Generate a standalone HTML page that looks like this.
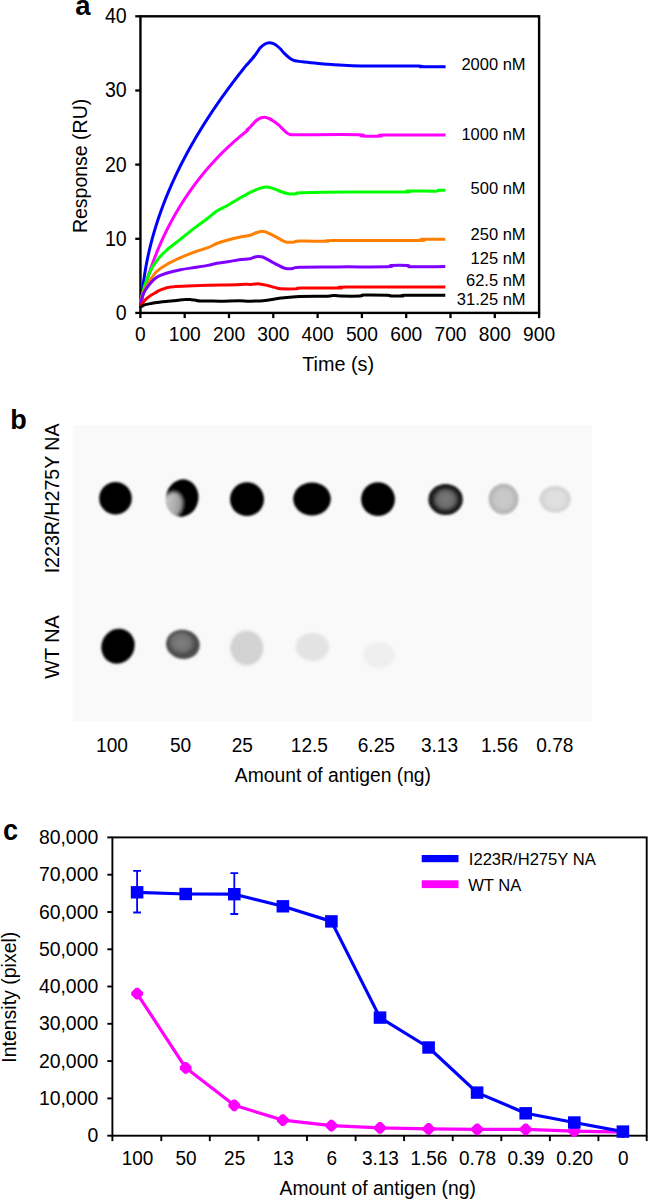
<!DOCTYPE html>
<html><head><meta charset="utf-8"><style>
html,body{margin:0;padding:0;background:#fff;}
svg{display:block;font-family:"Liberation Sans", sans-serif;}
</style></head><body>
<svg width="648" height="1199" viewBox="0 0 648 1199">
<defs>
<filter id="bl" x="-30%" y="-30%" width="160%" height="160%"><feGaussianBlur stdDeviation="1.1"/></filter>
<filter id="bl2" x="-30%" y="-30%" width="160%" height="160%"><feGaussianBlur stdDeviation="1.6"/></filter>
<filter id="bl3" x="-40%" y="-40%" width="180%" height="180%"><feGaussianBlur stdDeviation="2.0"/></filter>
<clipPath id="cd2"><ellipse cx="182.2" cy="498" rx="16.2" ry="18.7" transform="rotate(10 182.2 498)"/></clipPath>
<linearGradient id="gd2" x1="0" y1="0.5" x2="1" y2="0.3"><stop offset="0" stop-color="#cfcfcf"/><stop offset="0.55" stop-color="#b0b0b0"/><stop offset="1" stop-color="#909090"/></linearGradient>
<radialGradient id="g6"><stop offset="0" stop-color="#7a7a7a"/><stop offset="0.5" stop-color="#6a6a6a"/><stop offset="0.78" stop-color="#222"/><stop offset="1" stop-color="#111"/></radialGradient>
<radialGradient id="g7"><stop offset="0" stop-color="#cbcbcb"/><stop offset="0.6" stop-color="#c6c6c6"/><stop offset="0.85" stop-color="#b6b6b6"/><stop offset="1" stop-color="#bcbcbc"/></radialGradient>
<radialGradient id="g8"><stop offset="0" stop-color="#e2e2e2"/><stop offset="0.6" stop-color="#dedede"/><stop offset="0.85" stop-color="#d4d4d4"/><stop offset="1" stop-color="#d8d8d8"/></radialGradient>
<radialGradient id="gw2" cx="0.45" cy="0.45"><stop offset="0" stop-color="#808080"/><stop offset="0.55" stop-color="#717171"/><stop offset="0.85" stop-color="#484848"/><stop offset="1" stop-color="#505050"/></radialGradient>
</defs>
<rect width="648" height="1199" fill="#fff"/>
<g transform="translate(75.20,15.20) scale(1.0,1.0)"><text font-size="27.5" font-weight="bold">a</text></g>
<rect x="140.45" y="16.3" width="398.65" height="296.60" fill="none" stroke="#000" stroke-width="2.4"/>
<line x1="135.25" y1="312.9" x2="140.45" y2="312.9" stroke="#000" stroke-width="2.3"/>
<g transform="translate(126.70,319.90) scale(1.0,1.08)"><text font-size="19.6" text-anchor="end">0</text></g>
<line x1="135.25" y1="238.8" x2="140.45" y2="238.8" stroke="#000" stroke-width="2.3"/>
<g transform="translate(126.70,245.75) scale(1.0,1.08)"><text font-size="19.6" text-anchor="end">10</text></g>
<line x1="135.25" y1="164.6" x2="140.45" y2="164.6" stroke="#000" stroke-width="2.3"/>
<g transform="translate(126.70,171.60) scale(1.0,1.08)"><text font-size="19.6" text-anchor="end">20</text></g>
<line x1="135.25" y1="90.5" x2="140.45" y2="90.5" stroke="#000" stroke-width="2.3"/>
<g transform="translate(126.70,97.45) scale(1.0,1.08)"><text font-size="19.6" text-anchor="end">30</text></g>
<line x1="135.25" y1="16.3" x2="140.45" y2="16.3" stroke="#000" stroke-width="2.3"/>
<g transform="translate(126.70,23.30) scale(1.0,1.08)"><text font-size="19.6" text-anchor="end">40</text></g>
<line x1="140.4" y1="312.9" x2="140.4" y2="318.09999999999997" stroke="#000" stroke-width="2.3"/>
<g transform="translate(140.45,340.80) scale(1.0,1.09)"><text font-size="19.2" text-anchor="middle">0</text></g>
<line x1="184.7" y1="312.9" x2="184.7" y2="318.09999999999997" stroke="#000" stroke-width="2.3"/>
<g transform="translate(184.74,340.80) scale(1.0,1.09)"><text font-size="19.2" text-anchor="middle">100</text></g>
<line x1="229.0" y1="312.9" x2="229.0" y2="318.09999999999997" stroke="#000" stroke-width="2.3"/>
<g transform="translate(229.04,340.80) scale(1.0,1.09)"><text font-size="19.2" text-anchor="middle">200</text></g>
<line x1="273.3" y1="312.9" x2="273.3" y2="318.09999999999997" stroke="#000" stroke-width="2.3"/>
<g transform="translate(273.33,340.80) scale(1.0,1.09)"><text font-size="19.2" text-anchor="middle">300</text></g>
<line x1="317.6" y1="312.9" x2="317.6" y2="318.09999999999997" stroke="#000" stroke-width="2.3"/>
<g transform="translate(317.63,340.80) scale(1.0,1.09)"><text font-size="19.2" text-anchor="middle">400</text></g>
<line x1="361.9" y1="312.9" x2="361.9" y2="318.09999999999997" stroke="#000" stroke-width="2.3"/>
<g transform="translate(361.92,340.80) scale(1.0,1.09)"><text font-size="19.2" text-anchor="middle">500</text></g>
<line x1="406.2" y1="312.9" x2="406.2" y2="318.09999999999997" stroke="#000" stroke-width="2.3"/>
<g transform="translate(406.22,340.80) scale(1.0,1.09)"><text font-size="19.2" text-anchor="middle">600</text></g>
<line x1="450.5" y1="312.9" x2="450.5" y2="318.09999999999997" stroke="#000" stroke-width="2.3"/>
<g transform="translate(450.51,340.80) scale(1.0,1.09)"><text font-size="19.2" text-anchor="middle">700</text></g>
<line x1="494.8" y1="312.9" x2="494.8" y2="318.09999999999997" stroke="#000" stroke-width="2.3"/>
<g transform="translate(494.81,340.80) scale(1.0,1.09)"><text font-size="19.2" text-anchor="middle">800</text></g>
<line x1="539.1" y1="312.9" x2="539.1" y2="318.09999999999997" stroke="#000" stroke-width="2.3"/>
<g transform="translate(539.10,340.80) scale(1.0,1.09)"><text font-size="19.2" text-anchor="middle">900</text></g>
<g transform="translate(302.20,370.80) scale(1.0,1.06)"><text font-size="19.8">Time (s)</text></g>
<g transform="translate(86.80,165.90) rotate(-90) scale(1.0,1.03)"><text font-size="19.5" text-anchor="middle">Response (RU)</text></g>
<path d="M141.48,303.79 L141.52,303.11 L141.56,302.43 L141.61,301.76 L141.65,301.08 L141.70,300.41 L141.75,299.73 L141.80,299.06 L141.85,298.39 L141.90,297.71 L141.96,297.04 L142.01,296.37 L142.07,295.69 L142.13,295.02 L142.19,294.35 L142.25,293.68 L142.31,293.01 L142.38,292.34 L142.44,291.67 L142.51,291.00 L142.58,290.33 L142.65,289.66 L142.72,288.99 L142.79,288.32 L142.87,287.66 L142.94,286.99 L143.02,286.32 L143.10,285.65 L143.18,284.99 L143.26,284.32 L143.34,283.65 L143.42,282.99 L143.51,282.32 L143.60,281.66 L143.69,281.00 L143.78,280.33 L143.87,279.67 L143.96,279.00 L144.05,278.34 L144.15,277.68 L144.24,277.02 L144.34,276.35 L144.44,275.69 L144.54,275.03 L144.64,274.37 L144.75,273.71 L144.85,273.05 L144.96,272.39 L145.07,271.73 L145.18,271.07 L145.29,270.41 L145.40,269.76 L145.51,269.10 L145.62,268.44 L145.74,267.78 L145.86,267.13 L145.98,266.47 L146.10,265.81 L146.22,265.16 L146.34,264.50 L146.46,263.85 L146.59,263.19 L146.71,262.54 L146.84,261.89 L146.97,261.23 L147.10,260.58 L147.23,259.93 L147.36,259.27 L147.50,258.62 L147.63,257.97 L147.77,257.32 L147.91,256.67 L148.05,256.02 L148.19,255.37 L148.33,254.72 L148.47,254.07 L148.62,253.42 L148.76,252.77 L148.91,252.12 L149.06,251.47 L149.21,250.83 L149.36,250.18 L149.51,249.53 L149.66,248.89 L149.82,248.24 L149.97,247.59 L150.13,246.95 L150.29,246.30 L150.45,245.66 L150.61,245.01 L150.77,244.37 L150.93,243.73 L151.10,243.08 L151.26,242.44 L151.43,241.80 L151.60,241.16 L151.77,240.52 L151.94,239.87 L152.11,239.23 L152.28,238.59 L152.46,237.95 L152.63,237.31 L152.81,236.67 L152.99,236.04 L153.17,235.40 L153.35,234.76 L153.53,234.12 L153.71,233.48 L153.90,232.85 L154.08,232.21 L154.27,231.57 L154.46,230.94 L154.64,230.30 L154.83,229.67 L155.02,229.03 L155.22,228.40 L155.41,227.76 L155.60,227.13 L155.80,226.50 L156.00,225.86 L156.19,225.23 L156.39,224.60 L156.59,223.97 L156.80,223.34 L157.00,222.71 L157.20,222.07 L157.41,221.44 L157.61,220.81 L157.82,220.19 L158.03,219.56 L158.24,218.93 L158.45,218.30 L158.66,217.67 L158.87,217.04 L159.09,216.42 L159.30,215.79 L159.52,215.16 L159.74,214.54 L159.95,213.91 L160.17,213.29 L160.39,212.66 L160.62,212.04 L160.84,211.41 L161.06,210.79 L161.29,210.17 L161.51,209.54 L161.74,208.92 L161.97,208.30 L162.20,207.68 L162.43,207.06 L162.66,206.44 L162.89,205.81 L163.13,205.19 L163.36,204.57 L163.60,203.96 L163.83,203.34 L164.07,202.72 L164.31,202.10 L164.55,201.48 L164.79,200.86 L165.03,200.25 L165.28,199.63 L165.52,199.01 L165.77,198.40 L166.01,197.78 L166.26,197.17 L166.51,196.55 L166.76,195.94 L167.01,195.33 L167.26,194.71 L167.51,194.10 L167.77,193.49 L168.02,192.87 L168.28,192.26 L168.53,191.65 L168.79,191.04 L169.05,190.43 L169.31,189.82 L169.57,189.21 L169.83,188.60 L170.09,187.99 L170.36,187.38 L170.62,186.77 L170.89,186.16 L171.15,185.56 L171.42,184.95 L171.69,184.34 L171.96,183.74 L172.23,183.13 L172.50,182.52 L172.77,181.92 L173.05,181.31 L173.32,180.71 L173.60,180.11 L173.87,179.50 L174.15,178.90 L174.43,178.30 L174.71,177.69 L174.99,177.09 L175.27,176.49 L175.55,175.89 L175.83,175.29 L176.12,174.69 L176.40,174.09 L176.69,173.49 L176.98,172.89 L177.26,172.29 L177.55,171.69 L177.84,171.09 L178.13,170.50 L178.42,169.90 L178.71,169.30 L179.01,168.71 L179.30,168.11 L179.60,167.52 L179.89,166.92 L180.19,166.33 L180.49,165.73 L180.79,165.14 L181.09,164.54 L181.39,163.95 L181.69,163.36 L181.99,162.77 L182.29,162.17 L182.60,161.58 L182.90,160.99 L183.21,160.40 L183.51,159.81 L183.82,159.22 L184.13,158.63 L184.44,158.04 L184.75,157.45 L185.06,156.86 L185.37,156.28 L185.68,155.69 L186.00,155.10 L186.31,154.52 L186.62,153.93 L186.94,153.34 L187.26,152.76 L187.57,152.17 L187.89,151.59 L188.21,151.01 L188.53,150.42 L188.85,149.84 L189.17,149.26 L189.50,148.67 L189.82,148.09 L190.14,147.51 L190.47,146.93 L190.80,146.35 L191.12,145.77 L191.45,145.19 L191.78,144.61 L192.11,144.03 L192.44,143.45 L192.77,142.87 L193.10,142.29 L193.43,141.72 L193.76,141.14 L194.10,140.56 L194.43,139.99 L194.77,139.41 L195.10,138.83 L195.44,138.26 L195.78,137.68 L196.11,137.11 L196.45,136.54 L196.79,135.96 L197.13,135.39 L197.48,134.82 L197.82,134.25 L198.16,133.67 L198.50,133.10 L198.85,132.53 L199.19,131.96 L199.54,131.39 L199.89,130.82 L200.23,130.25 L200.58,129.68 L200.93,129.12 L201.28,128.55 L201.63,127.98 L201.98,127.41 L202.33,126.85 L202.68,126.28 L203.04,125.71 L203.39,125.15 L203.75,124.58 L204.10,124.02 L204.46,123.46 L204.81,122.89 L205.17,122.33 L205.53,121.77 L205.89,121.20 L206.25,120.64 L206.61,120.08 L206.97,119.52 L207.33,118.96 L207.69,118.40 L208.05,117.84 L208.42,117.28 L208.78,116.72 L209.15,116.16 L209.51,115.60 L209.88,115.04 L210.24,114.49 L210.61,113.93 L210.98,113.37 L211.35,112.82 L211.72,112.26 L212.09,111.71 L212.46,111.15 L212.83,110.60 L213.20,110.04 L213.57,109.49 L213.95,108.94 L214.32,108.39 L214.69,107.83 L215.07,107.28 L215.45,106.73 L215.82,106.18 L216.20,105.63 L216.58,105.08 L216.95,104.53 L217.33,103.98 L217.71,103.43 L218.09,102.88 L218.47,102.34 L218.85,101.79 L219.24,101.24 L219.62,100.69 L220.00,100.15 L220.38,99.60 L220.77,99.06 L221.15,98.51 L221.54,97.97 L221.92,97.42 L222.31,96.88 L222.70,96.34 L223.08,95.80 L223.47,95.25 L223.86,94.71 L224.25,94.17 L224.64,93.63 L225.03,93.09 L225.42,92.55 L225.81,92.01 L226.20,91.47 L226.60,90.93 L226.99,90.39 L227.38,89.86 L227.78,89.32 L228.17,88.78 L228.57,88.24 L228.96,87.71 L229.36,87.17 L229.75,86.64 L230.15,86.10 L230.55,85.57 L230.95,85.03 L231.35,84.50 L231.75,83.97 L232.14,83.44 L232.55,82.90 L232.95,82.37 L233.35,81.84 L233.75,81.31 L234.15,80.78 L234.55,80.25 L234.96,79.72 L235.36,79.19 L235.76,78.66 L236.17,78.13 L236.57,77.61 L236.98,77.08 L237.39,76.55 L237.79,76.03 L238.20,75.50 L238.61,74.97 L239.01,74.45 L239.42,73.92 L239.83,73.40 L240.24,72.88 L240.65,72.35 L241.06,71.83 L241.47,71.31 L241.88,70.79 L242.29,70.27 L242.70,69.74 L243.12,69.22 L243.53,68.70 L243.94,68.18 L244.36,67.66 L244.77,67.15 L245.18,66.63 L245.60,66.11 L246.01,65.59 L246.43,65.08 L246.85,64.56 L247.0,64.7 C248.3,63.2 252.6,58.4 254.8,55.5 C257.1,52.6 258.8,49.5 260.5,47.6 C262.2,45.7 263.5,44.8 265.0,44.0 C266.5,43.2 268.1,42.8 269.4,42.7 C270.7,42.6 271.8,43.0 273.0,43.4 C274.2,43.8 275.1,44.5 276.4,45.4 C277.6,46.3 279.2,47.7 280.5,49.0 C281.8,50.3 282.5,51.5 284.1,53.1 C285.7,54.7 288.4,57.2 290.2,58.5 C292.0,59.8 292.9,60.3 294.9,60.8 C296.9,61.3 299.0,61.3 302.3,61.7 C305.6,62.1 310.6,62.6 314.7,63.0 C318.8,63.4 322.9,63.9 327.0,64.2 C331.1,64.5 333.6,64.7 339.4,65.0 C345.2,65.3 348.4,65.8 361.6,65.9 C374.8,66.1 408.5,65.8 418.4,65.9 C428.3,66.0 416.4,66.6 420.9,66.7 C425.4,66.8 441.5,66.8 445.6,66.8" fill="none" stroke="#0000ff" stroke-width="3.0" stroke-linejoin="round" stroke-linecap="butt"/>
<path d="M141.04,303.21 L141.15,302.70 L141.26,302.19 L141.38,301.68 L141.49,301.17 L141.61,300.66 L141.73,300.16 L141.85,299.65 L141.96,299.14 L142.08,298.63 L142.20,298.12 L142.32,297.62 L142.45,297.11 L142.57,296.60 L142.69,296.10 L142.82,295.59 L142.94,295.08 L143.07,294.58 L143.19,294.07 L143.32,293.57 L143.45,293.06 L143.58,292.56 L143.71,292.05 L143.84,291.55 L143.97,291.04 L144.10,290.54 L144.24,290.04 L144.37,289.53 L144.51,289.03 L144.64,288.53 L144.78,288.02 L144.91,287.52 L145.05,287.02 L145.19,286.52 L145.33,286.02 L145.47,285.51 L145.61,285.01 L145.75,284.51 L145.90,284.01 L146.04,283.51 L146.19,283.01 L146.33,282.51 L146.48,282.01 L146.62,281.51 L146.77,281.01 L146.92,280.51 L147.07,280.02 L147.22,279.52 L147.37,279.02 L147.52,278.52 L147.67,278.02 L147.83,277.53 L147.98,277.03 L148.14,276.53 L148.29,276.04 L148.45,275.54 L148.60,275.04 L148.76,274.55 L148.92,274.05 L149.08,273.56 L149.24,273.06 L149.40,272.57 L149.56,272.08 L149.73,271.58 L149.89,271.09 L150.06,270.59 L150.22,270.10 L150.39,269.61 L150.55,269.12 L150.72,268.62 L150.89,268.13 L151.06,267.64 L151.23,267.15 L151.40,266.66 L151.57,266.17 L151.74,265.68 L151.92,265.19 L152.09,264.70 L152.26,264.21 L152.44,263.72 L152.62,263.23 L152.79,262.74 L152.97,262.26 L153.15,261.77 L153.33,261.28 L153.51,260.79 L153.69,260.31 L153.87,259.82 L154.05,259.33 L154.24,258.85 L154.42,258.36 L154.61,257.88 L154.79,257.39 L154.98,256.91 L155.17,256.42 L155.35,255.94 L155.54,255.46 L155.73,254.97 L155.92,254.49 L156.11,254.01 L156.31,253.53 L156.50,253.04 L156.69,252.56 L156.89,252.08 L157.08,251.60 L157.28,251.12 L157.48,250.64 L157.67,250.16 L157.87,249.68 L158.07,249.20 L158.27,248.72 L158.47,248.24 L158.67,247.77 L158.87,247.29 L159.08,246.81 L159.28,246.33 L159.49,245.86 L159.69,245.38 L159.90,244.91 L160.10,244.43 L160.31,243.95 L160.52,243.48 L160.73,243.01 L160.94,242.53 L161.15,242.06 L161.36,241.58 L161.57,241.11 L161.79,240.64 L162.00,240.17 L162.22,239.69 L162.43,239.22 L162.65,238.75 L162.86,238.28 L163.08,237.81 L163.30,237.34 L163.52,236.87 L163.74,236.40 L163.96,235.93 L164.18,235.47 L164.41,235.00 L164.63,234.53 L164.85,234.06 L165.08,233.60 L165.30,233.13 L165.53,232.66 L165.76,232.20 L165.98,231.73 L166.21,231.27 L166.44,230.80 L166.67,230.34 L166.90,229.88 L167.13,229.41 L167.37,228.95 L167.60,228.49 L167.83,228.02 L168.07,227.56 L168.30,227.10 L168.54,226.64 L168.78,226.18 L169.02,225.72 L169.25,225.26 L169.49,224.80 L169.73,224.34 L169.97,223.89 L170.22,223.43 L170.46,222.97 L170.70,222.51 L170.95,222.06 L171.19,221.60 L171.44,221.14 L171.68,220.69 L171.93,220.23 L172.18,219.78 L172.43,219.33 L172.68,218.87 L172.93,218.42 L173.18,217.97 L173.43,217.51 L173.68,217.06 L173.93,216.61 L174.19,216.16 L174.44,215.71 L174.70,215.26 L174.95,214.81 L175.21,214.36 L175.47,213.91 L175.73,213.46 L175.99,213.02 L176.25,212.57 L176.51,212.12 L176.77,211.67 L177.03,211.23 L177.29,210.78 L177.56,210.34 L177.82,209.89 L178.09,209.45 L178.35,209.01 L178.62,208.56 L178.89,208.12 L179.16,207.68 L179.43,207.24 L179.70,206.79 L179.97,206.35 L180.24,205.91 L180.51,205.47 L180.78,205.03 L181.06,204.59 L181.33,204.16 L181.61,203.72 L181.88,203.28 L182.16,202.84 L182.44,202.41 L182.71,201.97 L182.99,201.53 L183.27,201.10 L183.55,200.66 L183.83,200.23 L184.12,199.80 L184.40,199.36 L184.68,198.93 L184.97,198.50 L185.25,198.07 L185.54,197.64 L185.82,197.21 L186.11,196.77 L186.40,196.35 L186.69,195.92 L186.98,195.49 L187.27,195.06 L187.56,194.63 L187.85,194.20 L188.14,193.78 L188.44,193.35 L188.73,192.93 L189.02,192.50 L189.32,192.08 L189.62,191.65 L189.91,191.23 L190.21,190.80 L190.51,190.38 L190.81,189.96 L191.11,189.54 L191.41,189.12 L191.71,188.70 L192.01,188.28 L192.31,187.86 L192.62,187.44 L192.92,187.02 L193.23,186.60 L193.53,186.18 L193.84,185.77 L194.15,185.35 L194.46,184.94 L194.76,184.52 L195.07,184.11 L195.38,183.69 L195.70,183.28 L196.01,182.86 L196.32,182.45 L196.63,182.04 L196.95,181.63 L197.26,181.22 L197.58,180.81 L197.89,180.40 L198.21,179.99 L198.53,179.58 L198.85,179.17 L199.17,178.76 L199.49,178.36 L199.81,177.95 L200.13,177.54 L200.45,177.14 L200.77,176.73 L201.10,176.33 L201.42,175.93 L201.75,175.52 L202.07,175.12 L202.40,174.72 L202.72,174.32 L203.05,173.92 L203.38,173.52 L203.71,173.12 L204.04,172.72 L204.37,172.32 L204.70,171.92 L205.04,171.52 L205.37,171.13 L205.70,170.73 L206.04,170.33 L206.37,169.94 L206.71,169.55 L207.05,169.15 L207.38,168.76 L207.72,168.37 L208.06,167.97 L208.40,167.58 L208.74,167.19 L209.08,166.80 L209.42,166.41 L209.77,166.02 L210.11,165.63 L210.45,165.24 L210.80,164.86 L211.14,164.47 L211.49,164.08 L211.84,163.70 L212.19,163.31 L212.53,162.93 L212.88,162.55 L213.23,162.16 L213.58,161.78 L213.93,161.40 L214.29,161.02 L214.64,160.64 L214.99,160.26 L215.35,159.88 L215.70,159.50 L216.06,159.12 L216.41,158.74 L216.77,158.36 L217.13,157.99 L217.49,157.61 L217.85,157.24 L218.21,156.86 L218.57,156.49 L218.93,156.12 L219.29,155.74 L219.65,155.37 L220.02,155.00 L220.38,154.63 L220.75,154.26 L221.11,153.89 L221.48,153.52 L221.85,153.15 L222.22,152.79 L222.58,152.42 L222.95,152.05 L223.32,151.69 L223.69,151.32 L224.07,150.96 L224.44,150.59 L224.81,150.23 L225.18,149.87 L225.56,149.51 L225.93,149.15 L226.31,148.79 L226.69,148.43 L227.06,148.07 L227.44,147.71 L227.82,147.35 L228.20,146.99 L228.58,146.64 L228.96,146.28 L229.34,145.93 L229.72,145.57 L230.11,145.22 L230.49,144.86 L230.88,144.51 L231.26,144.16 L231.65,143.81 L232.03,143.46 L232.42,143.11 L232.81,142.76 L233.20,142.41 L233.59,142.06 L233.98,141.72 L234.37,141.37 L234.76,141.02 L235.15,140.68 L235.54,140.34 L235.94,139.99 L236.33,139.65 L236.73,139.31 L237.12,138.97 L237.52,138.62 L237.92,138.28 L238.31,137.94 L238.71,137.61 L239.11,137.27 L239.51,136.93 L239.91,136.59 L240.31,136.26 L240.72,135.92 L241.12,135.59 L241.52,135.25 L241.93,134.92 L242.33,134.59 L242.74,134.26 L243.14,133.93 L243.55,133.60 L243.96,133.27 L244.37,132.94 L244.78,132.61 L245.19,132.28 L245.60,131.96 L246.01,131.63 L246.42,131.30 L246.83,130.98 L247.25,130.66 L247.66,130.33 L247.0,129.8 C247.7,129.2 249.4,127.8 251.0,126.2 C252.6,124.7 254.7,121.9 256.3,120.5 C257.9,119.1 259.1,118.5 260.5,118.0 C261.9,117.5 263.4,117.1 264.8,117.2 C266.2,117.3 267.6,117.9 269.0,118.5 C270.4,119.1 271.7,119.9 273.3,121.0 C274.9,122.1 277.3,123.9 278.8,125.2 C280.3,126.5 281.2,127.6 282.5,128.8 C283.8,130.0 285.2,131.5 286.5,132.5 C287.8,133.5 287.8,134.2 290.0,134.6 C292.2,135.0 288.5,134.7 300.0,134.7 C311.5,134.7 348.8,134.5 359.1,134.7 C369.4,134.9 357.9,135.8 361.6,136.0 C365.3,136.2 377.7,136.2 381.4,136.0 C385.1,135.8 373.1,135.2 383.8,135.1 C394.5,134.9 435.3,135.1 445.6,135.1" fill="none" stroke="#ff00ff" stroke-width="3.0" stroke-linejoin="round" stroke-linecap="butt"/>
<path d="M140.6,303.0 C140.8,302.2 141.1,299.9 141.5,298.0 C141.9,296.1 142.2,294.6 143.0,291.6 C143.8,288.7 145.0,284.3 146.5,280.3 C148.0,276.3 150.1,271.3 152.2,267.5 C154.3,263.7 157.0,260.4 159.3,257.6 C161.7,254.8 162.8,253.6 166.3,250.5 C169.8,247.4 175.8,243.0 180.5,239.2 C185.2,235.4 190.1,231.4 194.7,227.9 C199.3,224.4 204.3,220.8 208.0,218.0 C211.7,215.2 213.5,213.1 216.8,211.0 C220.1,208.9 224.4,207.2 228.0,205.2 C231.6,203.2 235.0,200.9 238.6,198.8 C242.2,196.7 246.2,194.4 249.4,192.8 C252.6,191.2 255.0,190.2 257.7,189.2 C260.4,188.2 262.8,187.1 265.4,187.0 C268.0,186.9 270.5,187.7 273.1,188.5 C275.7,189.3 278.3,190.7 280.9,191.6 C283.5,192.5 286.0,193.4 288.6,193.8 C291.2,194.2 294.2,194.0 296.3,193.8 C298.4,193.6 292.2,193.1 300.9,192.8 C309.6,192.5 330.9,192.0 348.5,191.9 C366.1,191.8 396.3,192.2 406.2,192.1 C416.1,191.9 403.1,191.2 407.9,191.0 C412.7,190.8 429.9,191.3 435.0,191.2 C440.1,191.1 436.8,190.3 438.5,190.2 C440.2,190.0 444.2,190.3 445.3,190.3" fill="none" stroke="#00ff00" stroke-width="3.0" stroke-linejoin="round" stroke-linecap="butt"/>
<path d="M140.6,303.0 C140.8,302.0 141.3,298.9 141.8,297.0 C142.3,295.1 142.4,294.2 143.7,291.6 C144.9,289.1 147.2,285.0 149.3,281.7 C151.4,278.4 153.6,274.6 156.4,271.8 C159.2,269.0 162.3,267.1 166.3,264.7 C170.3,262.3 175.8,259.7 180.5,257.6 C185.2,255.5 190.1,253.7 194.7,252.0 C199.3,250.3 204.3,249.1 208.0,247.7 C211.7,246.3 213.5,244.8 216.8,243.5 C220.1,242.2 224.2,241.0 228.0,240.0 C231.8,239.0 235.6,238.1 239.3,237.3 C243.0,236.5 247.3,236.0 250.0,235.3 C252.7,234.6 253.7,233.7 255.5,233.0 C257.3,232.3 259.2,231.6 260.8,231.4 C262.4,231.2 263.7,231.5 265.0,231.8 C266.3,232.1 266.4,232.2 268.5,233.2 C270.6,234.2 275.4,236.6 277.8,237.9 C280.2,239.2 281.5,240.1 283.0,240.8 C284.5,241.5 285.3,242.0 287.0,242.2 C288.7,242.4 291.1,242.4 293.2,242.2 C295.3,242.0 293.7,241.3 299.4,241.1 C305.1,240.9 321.5,241.3 327.2,241.2 C332.9,241.1 318.1,240.5 333.3,240.4 C348.5,240.3 403.4,240.6 418.1,240.4 C432.8,240.2 417.0,239.5 421.5,239.3 C426.0,239.1 441.3,239.3 445.3,239.3" fill="none" stroke="#ff8000" stroke-width="3.0" stroke-linejoin="round" stroke-linecap="butt"/>
<path d="M140.6,303.5 C140.8,302.7 141.3,300.2 141.8,298.5 C142.3,296.8 142.4,295.3 143.7,293.0 C144.9,290.7 147.2,287.1 149.3,284.5 C151.4,281.9 153.6,279.4 156.4,277.5 C159.2,275.6 162.3,274.5 166.3,273.2 C170.3,271.9 175.8,270.6 180.5,269.7 C185.2,268.8 190.1,268.2 194.7,267.5 C199.3,266.8 204.3,266.1 208.0,265.4 C211.7,264.7 213.5,263.8 216.8,263.2 C220.1,262.6 224.2,262.3 228.0,261.7 C231.8,261.1 235.6,260.3 239.3,259.8 C243.0,259.3 247.6,259.1 250.0,258.7 C252.4,258.3 252.7,257.6 254.0,257.2 C255.3,256.8 256.4,256.5 257.7,256.4 C258.9,256.3 260.2,256.5 261.5,256.8 C262.8,257.1 263.2,257.2 265.4,258.3 C267.6,259.4 271.6,261.8 274.7,263.4 C277.8,265.0 281.7,267.1 284.0,268.0 C286.3,268.9 287.1,268.7 288.6,268.8 C290.1,268.9 291.2,268.7 293.0,268.4 C294.8,268.1 292.2,267.4 299.4,267.2 C306.6,266.9 321.7,267.0 336.4,266.9 C351.1,266.8 378.4,267.0 387.5,266.8 C396.6,266.6 387.5,265.8 390.9,265.6 C394.3,265.4 404.5,265.4 407.9,265.6 C411.3,265.8 405.1,266.7 411.3,266.8 C417.5,266.9 439.6,266.6 445.3,266.5" fill="none" stroke="#8000ff" stroke-width="3.0" stroke-linejoin="round" stroke-linecap="butt"/>
<path d="M140.5,306.5 C140.6,306.4 140.3,306.6 140.8,305.8 C141.3,305.1 142.6,303.2 143.5,302.0 C144.4,300.8 145.3,299.8 146.5,298.7 C147.7,297.6 149.1,296.6 150.5,295.6 C151.9,294.7 153.6,293.8 155.0,293.0 C156.4,292.2 157.6,291.4 159.0,290.7 C160.4,290.0 162.0,289.3 163.5,288.8 C165.0,288.3 166.3,287.9 168.0,287.5 C169.7,287.1 170.1,286.9 173.4,286.7 C176.7,286.4 181.8,286.2 187.6,286.0 C193.4,285.8 201.3,285.4 208.0,285.2 C214.7,285.0 221.7,285.0 228.0,284.9 C234.3,284.8 242.3,284.4 246.0,284.3 C249.7,284.2 247.8,284.6 250.0,284.5 C252.2,284.4 256.2,283.7 259.3,283.9 C262.4,284.1 266.0,285.1 268.5,285.7 C271.0,286.3 272.4,286.9 274.5,287.4 C276.6,287.9 277.3,288.6 280.9,288.8 C284.5,289.0 293.0,288.9 296.3,288.8 C299.6,288.7 293.6,288.2 300.9,288.1 C308.2,288.0 332.4,288.2 340.0,288.0 C347.6,287.8 329.2,287.1 346.8,287.0 C364.4,286.9 428.9,287.1 445.3,287.1" fill="none" stroke="#ff0000" stroke-width="3.0" stroke-linejoin="round" stroke-linecap="butt"/>
<path d="M140.6,307.8 C140.6,307.7 140.3,307.6 140.8,307.2 C141.3,306.8 142.6,305.9 143.5,305.4 C144.4,304.9 145.1,304.8 146.5,304.4 C147.9,304.0 149.9,303.7 152.0,303.3 C154.1,302.9 157.0,302.5 159.3,302.2 C161.6,301.9 163.7,301.7 166.0,301.5 C168.3,301.3 171.1,301.1 173.4,300.8 C175.7,300.5 178.1,300.1 180.0,299.9 C181.9,299.7 183.1,299.4 184.8,299.4 C186.5,299.3 188.3,299.5 190.0,299.6 C191.7,299.7 193.0,299.9 194.7,300.1 C196.4,300.3 197.8,300.9 200.0,301.0 C202.2,301.1 204.7,301.0 208.0,301.0 C211.3,301.0 214.8,301.2 220.0,301.2 C225.2,301.2 234.3,300.8 239.3,300.8 C244.3,300.8 245.7,301.3 250.0,301.2 C254.3,301.1 260.2,300.9 265.4,300.4 C270.5,299.9 275.2,298.8 280.9,298.1 C286.6,297.5 291.7,296.8 299.4,296.5 C307.1,296.2 321.5,296.4 327.2,296.2 C332.9,296.0 331.2,295.4 333.3,295.4 C335.4,295.4 335.5,295.9 340.0,296.0 C344.5,296.1 356.4,296.2 360.4,296.0 C364.4,295.8 359.3,295.1 363.8,295.0 C368.3,294.9 383.0,295.1 387.5,295.3 C392.0,295.5 388.3,295.9 390.9,296.0 C393.4,296.1 400.5,296.1 402.8,296.0 C405.1,295.9 397.4,295.3 404.5,295.2 C411.6,295.1 438.5,295.3 445.3,295.3" fill="none" stroke="#000000" stroke-width="3.0" stroke-linejoin="round" stroke-linecap="butt"/>
<g transform="translate(525.60,70.40) scale(1.0,1.04)"><text font-size="16.5" text-anchor="end">2000 nM</text></g>
<g transform="translate(525.60,140.20) scale(1.0,1.04)"><text font-size="16.5" text-anchor="end">1000 nM</text></g>
<g transform="translate(525.60,194.00) scale(1.0,1.04)"><text font-size="16.5" text-anchor="end">500 nM</text></g>
<g transform="translate(525.60,239.80) scale(1.0,1.04)"><text font-size="16.5" text-anchor="end">250 nM</text></g>
<g transform="translate(525.60,264.20) scale(1.0,1.04)"><text font-size="16.5" text-anchor="end">125 nM</text></g>
<g transform="translate(525.60,285.80) scale(1.0,1.04)"><text font-size="16.5" text-anchor="end">62.5 nM</text></g>
<g transform="translate(525.60,304.50) scale(1.0,1.04)"><text font-size="16.5" text-anchor="end">31.25 nM</text></g>
<g transform="translate(10.20,428.60) scale(1.0,1.0)"><text font-size="27" font-weight="bold">b</text></g>
<rect x="72.6" y="425.4" width="519.6" height="296.2" fill="#f9f9f9"/>
<g transform="translate(58.80,498.40) rotate(-90) scale(1.0,1.03)"><text font-size="19.6" text-anchor="middle">I223R/H275Y NA</text></g>
<g transform="translate(59.00,647.00) rotate(-90) scale(1.0,1.03)"><text font-size="19.8" text-anchor="middle">WT NA</text></g>
<ellipse cx="115.5" cy="498.3" rx="16.3" ry="16.3" fill="#000" transform="rotate(0 115.5 498.3)" filter="url(#bl)"/>
<g filter="url(#bl)"><ellipse cx="182.2" cy="498" rx="16.2" ry="18.7" fill="#000" transform="rotate(10 182.2 498)"/><g clip-path="url(#cd2)"><ellipse cx="172.5" cy="505" rx="10.5" ry="13.5" fill="url(#gd2)" transform="rotate(15 172.5 505)" filter="url(#bl2)"/></g></g>
<ellipse cx="247" cy="499.2" rx="17" ry="16.9" fill="#000" transform="rotate(0 247 499.2)" filter="url(#bl)"/>
<ellipse cx="312" cy="499" rx="18.8" ry="16.6" fill="#000" transform="rotate(0 312 499)" filter="url(#bl)"/>
<ellipse cx="378" cy="499.2" rx="16.9" ry="16.9" fill="#000" transform="rotate(0 378 499.2)" filter="url(#bl)"/>
<ellipse cx="445.6" cy="499.5" rx="17.2" ry="15.6" fill="url(#g6)" transform="rotate(0 445.6 499.5)" filter="url(#bl)"/>
<ellipse cx="503.5" cy="499" rx="15" ry="15.5" fill="url(#g7)" transform="rotate(0 503.5 499)" filter="url(#bl)"/>
<ellipse cx="555.2" cy="499.3" rx="15.8" ry="13.5" fill="url(#g8)" transform="rotate(0 555.2 499.3)" filter="url(#bl)"/>
<ellipse cx="118" cy="646.2" rx="16.4" ry="17.8" fill="#000" transform="rotate(28 118 646.2)" filter="url(#bl)"/>
<ellipse cx="182.9" cy="644.4" rx="16.9" ry="14.6" fill="url(#gw2)" transform="rotate(10 182.9 644.4)" filter="url(#bl)"/>
<ellipse cx="246.8" cy="648" rx="16.6" ry="17.3" fill="#d2d2d2" transform="rotate(0 246.8 648)" filter="url(#bl2)"/>
<ellipse cx="312.4" cy="647" rx="16.7" ry="14" fill="#e3e3e3" transform="rotate(0 312.4 647)" filter="url(#bl2)"/>
<ellipse cx="379" cy="655" rx="16" ry="13" fill="#efefef" transform="rotate(0 379 655)" filter="url(#bl2)"/>
<g transform="translate(112.00,751.60) scale(1.0,1.06)"><text font-size="19.1" text-anchor="middle">100</text></g>
<g transform="translate(180.50,751.60) scale(1.0,1.06)"><text font-size="19.1" text-anchor="middle">50</text></g>
<g transform="translate(242.30,751.60) scale(1.0,1.06)"><text font-size="19.1" text-anchor="middle">25</text></g>
<g transform="translate(309.40,751.60) scale(1.0,1.06)"><text font-size="19.1" text-anchor="middle">12.5</text></g>
<g transform="translate(376.30,751.60) scale(1.0,1.06)"><text font-size="19.1" text-anchor="middle">6.25</text></g>
<g transform="translate(439.50,751.60) scale(1.0,1.06)"><text font-size="19.1" text-anchor="middle">3.13</text></g>
<g transform="translate(499.50,751.60) scale(1.0,1.06)"><text font-size="19.1" text-anchor="middle">1.56</text></g>
<g transform="translate(554.80,751.60) scale(1.0,1.06)"><text font-size="19.1" text-anchor="middle">0.78</text></g>
<g transform="translate(234.80,782.00) scale(1.0,1.06)"><text font-size="19.3">Amount of antigen (ng)</text></g>
<g transform="translate(3.00,839.80) scale(1.0,1.1)"><text font-size="27.2" font-weight="bold">c</text></g>
<rect x="112.4" y="837.4" width="534.30" height="298.30" fill="none" stroke="#000" stroke-width="1.9"/>
<line x1="107.30000000000001" y1="1135.7" x2="112.4" y2="1135.7" stroke="#000" stroke-width="1.9"/>
<g transform="translate(98.20,1142.30) scale(1.0,1.06)"><text font-size="19.4" text-anchor="end">0</text></g>
<line x1="107.30000000000001" y1="1098.4" x2="112.4" y2="1098.4" stroke="#000" stroke-width="1.9"/>
<g transform="translate(98.20,1105.01) scale(1.0,1.06)"><text font-size="19.4" text-anchor="end">10,000</text></g>
<line x1="107.30000000000001" y1="1061.1" x2="112.4" y2="1061.1" stroke="#000" stroke-width="1.9"/>
<g transform="translate(98.20,1067.72) scale(1.0,1.06)"><text font-size="19.4" text-anchor="end">20,000</text></g>
<line x1="107.30000000000001" y1="1023.8" x2="112.4" y2="1023.8" stroke="#000" stroke-width="1.9"/>
<g transform="translate(98.20,1030.44) scale(1.0,1.06)"><text font-size="19.4" text-anchor="end">30,000</text></g>
<line x1="107.30000000000001" y1="986.5" x2="112.4" y2="986.5" stroke="#000" stroke-width="1.9"/>
<g transform="translate(98.20,993.15) scale(1.0,1.06)"><text font-size="19.4" text-anchor="end">40,000</text></g>
<line x1="107.30000000000001" y1="949.3" x2="112.4" y2="949.3" stroke="#000" stroke-width="1.9"/>
<g transform="translate(98.20,955.86) scale(1.0,1.06)"><text font-size="19.4" text-anchor="end">50,000</text></g>
<line x1="107.30000000000001" y1="912.0" x2="112.4" y2="912.0" stroke="#000" stroke-width="1.9"/>
<g transform="translate(98.20,918.58) scale(1.0,1.06)"><text font-size="19.4" text-anchor="end">60,000</text></g>
<line x1="107.30000000000001" y1="874.7" x2="112.4" y2="874.7" stroke="#000" stroke-width="1.9"/>
<g transform="translate(98.20,881.29) scale(1.0,1.06)"><text font-size="19.4" text-anchor="end">70,000</text></g>
<line x1="107.30000000000001" y1="837.4" x2="112.4" y2="837.4" stroke="#000" stroke-width="1.9"/>
<g transform="translate(98.20,844.00) scale(1.0,1.06)"><text font-size="19.4" text-anchor="end">80,000</text></g>
<line x1="112.4" y1="1135.7" x2="112.4" y2="1141.1000000000001" stroke="#000" stroke-width="1.9"/>
<line x1="161.3" y1="1135.7" x2="161.3" y2="1141.1000000000001" stroke="#000" stroke-width="1.9"/>
<line x1="209.8" y1="1135.7" x2="209.8" y2="1141.1000000000001" stroke="#000" stroke-width="1.9"/>
<line x1="258.4" y1="1135.7" x2="258.4" y2="1141.1000000000001" stroke="#000" stroke-width="1.9"/>
<line x1="307.0" y1="1135.7" x2="307.0" y2="1141.1000000000001" stroke="#000" stroke-width="1.9"/>
<line x1="355.6" y1="1135.7" x2="355.6" y2="1141.1000000000001" stroke="#000" stroke-width="1.9"/>
<line x1="404.1" y1="1135.7" x2="404.1" y2="1141.1000000000001" stroke="#000" stroke-width="1.9"/>
<line x1="452.7" y1="1135.7" x2="452.7" y2="1141.1000000000001" stroke="#000" stroke-width="1.9"/>
<line x1="501.3" y1="1135.7" x2="501.3" y2="1141.1000000000001" stroke="#000" stroke-width="1.9"/>
<line x1="549.9" y1="1135.7" x2="549.9" y2="1141.1000000000001" stroke="#000" stroke-width="1.9"/>
<line x1="598.4" y1="1135.7" x2="598.4" y2="1141.1000000000001" stroke="#000" stroke-width="1.9"/>
<line x1="646.7" y1="1135.7" x2="646.7" y2="1141.1000000000001" stroke="#000" stroke-width="1.9"/>
<g transform="translate(137.49,1164.90) scale(1.0,1.06)"><text font-size="19.0" text-anchor="middle">100</text></g>
<g transform="translate(186.06,1164.90) scale(1.0,1.06)"><text font-size="19.0" text-anchor="middle">50</text></g>
<g transform="translate(234.63,1164.90) scale(1.0,1.06)"><text font-size="19.0" text-anchor="middle">25</text></g>
<g transform="translate(283.20,1164.90) scale(1.0,1.06)"><text font-size="19.0" text-anchor="middle">13</text></g>
<g transform="translate(331.78,1164.90) scale(1.0,1.06)"><text font-size="19.0" text-anchor="middle">6</text></g>
<g transform="translate(380.35,1164.90) scale(1.0,1.06)"><text font-size="19.0" text-anchor="middle">3.13</text></g>
<g transform="translate(428.92,1164.90) scale(1.0,1.06)"><text font-size="19.0" text-anchor="middle">1.56</text></g>
<g transform="translate(477.50,1164.90) scale(1.0,1.06)"><text font-size="19.0" text-anchor="middle">0.78</text></g>
<g transform="translate(526.07,1164.90) scale(1.0,1.06)"><text font-size="19.0" text-anchor="middle">0.39</text></g>
<g transform="translate(574.64,1164.90) scale(1.0,1.06)"><text font-size="19.0" text-anchor="middle">0.20</text></g>
<g transform="translate(623.21,1164.90) scale(1.0,1.06)"><text font-size="19.0" text-anchor="middle">0</text></g>
<g transform="translate(279.60,1195.30) scale(1.0,1.06)"><text font-size="19.3">Amount of antigen (ng)</text></g>
<g transform="translate(16.00,997.20) rotate(-90) scale(1.0,1.03)"><text font-size="19.5" text-anchor="middle">Intensity (pixel)</text></g>
<polyline points="137.1,993.6 185.7,1067.8 234.3,1105.3 282.9,1120.1 331.4,1125.7 380.0,1127.9 428.6,1128.8 477.1,1129.3 525.7,1129.3 574.3,1131.2 622.9,1132.2" fill="none" stroke="#ff00ff" stroke-width="3.2" stroke-linejoin="round"/>
<polygon points="143.04,995.00 138.54,999.50 135.74,999.50 131.24,995.00 131.24,992.20 135.74,987.70 138.54,987.70 143.04,992.20" fill="#ff00ff"/>
<polygon points="191.61,1069.20 187.11,1073.70 184.31,1073.70 179.81,1069.20 179.81,1066.40 184.31,1061.90 187.11,1061.90 191.61,1066.40" fill="#ff00ff"/>
<polygon points="240.18,1106.70 235.68,1111.20 232.88,1111.20 228.38,1106.70 228.38,1103.90 232.88,1099.40 235.68,1099.40 240.18,1103.90" fill="#ff00ff"/>
<polygon points="288.75,1121.50 284.25,1126.00 281.45,1126.00 276.95,1121.50 276.95,1118.70 281.45,1114.20 284.25,1114.20 288.75,1118.70" fill="#ff00ff"/>
<polygon points="337.33,1127.10 332.83,1131.60 330.03,1131.60 325.53,1127.10 325.53,1124.30 330.03,1119.80 332.83,1119.80 337.33,1124.30" fill="#ff00ff"/>
<polygon points="385.90,1129.30 381.40,1133.80 378.60,1133.80 374.10,1129.30 374.10,1126.50 378.60,1122.00 381.40,1122.00 385.90,1126.50" fill="#ff00ff"/>
<polygon points="434.47,1130.20 429.97,1134.70 427.17,1134.70 422.67,1130.20 422.67,1127.40 427.17,1122.90 429.97,1122.90 434.47,1127.40" fill="#ff00ff"/>
<polygon points="483.05,1130.70 478.55,1135.20 475.75,1135.20 471.25,1130.70 471.25,1127.90 475.75,1123.40 478.55,1123.40 483.05,1127.90" fill="#ff00ff"/>
<polygon points="531.62,1130.70 527.12,1135.20 524.32,1135.20 519.82,1130.70 519.82,1127.90 524.32,1123.40 527.12,1123.40 531.62,1127.90" fill="#ff00ff"/>
<polygon points="580.19,1132.60 575.69,1137.10 572.89,1137.10 568.39,1132.60 568.39,1129.80 572.89,1125.30 575.69,1125.30 580.19,1129.80" fill="#ff00ff"/>
<polygon points="628.76,1133.60 624.26,1138.10 621.46,1138.10 616.96,1133.60 616.96,1130.80 621.46,1126.30 624.26,1126.30 628.76,1130.80" fill="#ff00ff"/>
<polyline points="137.1,892.3 185.7,894.0 234.3,894.2 282.9,906.3 331.4,921.4 380.0,1017.6 428.6,1047.5 477.1,1092.6 525.7,1113.3 574.3,1122.5 622.9,1131.6" fill="none" stroke="#0000ff" stroke-width="3.2" stroke-linejoin="round"/>
<path d="M137.1,870.9 V912.5 M133.2,870.9 H141.0 M133.2,912.5 H141.0" stroke="#0000ff" stroke-width="1.8" fill="none"/>
<path d="M234.3,873.2 V914.0 M230.4,873.2 H238.2 M230.4,914.0 H238.2" stroke="#0000ff" stroke-width="1.8" fill="none"/>
<rect x="130.8" y="886.1" width="12.6" height="12.4" fill="#0000ff"/>
<rect x="179.4" y="887.8" width="12.6" height="12.4" fill="#0000ff"/>
<rect x="228.0" y="888.0" width="12.6" height="12.4" fill="#0000ff"/>
<rect x="276.6" y="900.1" width="12.6" height="12.4" fill="#0000ff"/>
<rect x="325.1" y="915.2" width="12.6" height="12.4" fill="#0000ff"/>
<rect x="373.7" y="1011.4" width="12.6" height="12.4" fill="#0000ff"/>
<rect x="422.3" y="1041.3" width="12.6" height="12.4" fill="#0000ff"/>
<rect x="470.8" y="1086.4" width="12.6" height="12.4" fill="#0000ff"/>
<rect x="519.4" y="1107.1" width="12.6" height="12.4" fill="#0000ff"/>
<rect x="568.0" y="1116.3" width="12.6" height="12.4" fill="#0000ff"/>
<rect x="616.6" y="1125.4" width="12.6" height="12.4" fill="#0000ff"/>
<rect x="421.7" y="855" width="36.8" height="7.2" fill="#0000ff"/>
<rect x="421.7" y="880.3" width="36.8" height="7.8" fill="#ff00ff"/>
<g transform="translate(468.80,865.40) scale(1.0,1.04)"><text font-size="16.6">I223R/H275Y NA</text></g>
<g transform="translate(468.20,891.00) scale(1.0,1.04)"><text font-size="16.6">WT NA</text></g>
</svg>
</body></html>
